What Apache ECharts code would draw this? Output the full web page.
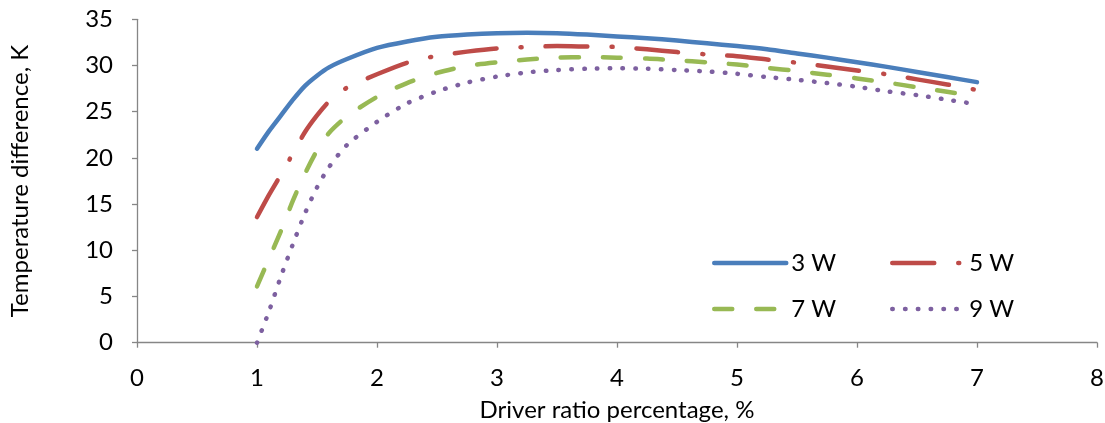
<!DOCTYPE html>
<html>
<head>
<meta charset="utf-8">
<script src="https://cdn.jsdelivr.net/npm/echarts@6/dist/echarts.min.js"></script>
<style>
html,body{margin:0;padding:0;background:#fff;}
#chart{width:1105px;height:423px;}
</style>
</head>
<body>
<div id="chart"></div>
<script>
const xValues = [1, 1.1, 1.2, 1.3, 1.4, 1.5, 1.6, 1.75, 2, 2.25, 2.5, 2.75, 3, 3.25, 3.5, 3.75, 4, 4.25, 4.5, 4.75, 5, 5.25, 5.5, 5.75, 6, 6.25, 6.5, 6.75, 7];
const seriesNames = ['3 W', '5 W', '7 W', '9 W'];
const w3 = [21.0, 22.9, 24.6, 26.3, 27.8, 28.9, 29.8, 30.7, 31.9, 32.6, 33.1, 33.35, 33.5, 33.55, 33.5, 33.35, 33.15, 32.95, 32.7, 32.4, 32.1, 31.75, 31.3, 30.85, 30.35, 29.85, 29.3, 28.75, 28.2];
const w5 = [13.6, 16.0, 18.2, 20.5, 22.8, 24.6, 26.1, 27.6, 29.05, 30.3, 31.05, 31.5, 31.85, 32.0, 32.1, 32.05, 32.0, 31.75, 31.45, 31.2, 31.0, 30.65, 30.3, 29.9, 29.45, 29.05, 28.5, 27.95, 27.35];
const w7 = [6.1, 9.1, 12.1, 15.4, 18.3, 20.8, 22.7, 24.5, 26.6, 28.1, 29.2, 29.95, 30.35, 30.65, 30.85, 30.9, 30.85, 30.75, 30.55, 30.35, 30.1, 29.75, 29.4, 29.0, 28.6, 28.15, 27.65, 27.15, 26.7];
const w9 = [0, 3.4, 7.2, 10.7, 14.0, 16.8, 19.0, 21.4, 23.9, 25.9, 27.2, 28.15, 28.8, 29.25, 29.5, 29.65, 29.7, 29.65, 29.5, 29.35, 29.1, 28.75, 28.45, 28.1, 27.7, 27.2, 26.8, 26.3, 25.8];
const xTicks = [0, 1, 2, 3, 4, 5, 6, 7, 8];
const yTicks = [0, 5, 10, 15, 20, 25, 30, 35];

const colors = ['#4A7EBB', '#BE4B48', '#98B954', '#7D60A0'];
const dashTypes = ['solid', [42, 24, 1, 24], [18, 24], [0.5, 12.3]];
const allValues = [w3, w5, w7, w9];

const font = 'Lato, "Open Sans", sans-serif';
const fs = 24;
const chart = echarts.init(document.getElementById('chart'), null, {renderer: 'canvas'});

const series = seriesNames.map((name, i) => ({
  name: name,
  type: 'line',
  data: xValues.map((x, j) => [x, allValues[i][j]]),
  smooth: 0.25,
  symbol: 'none',
  showSymbol: false,
  animation: false,
  lineStyle: {color: colors[i], width: 4.5, type: dashTypes[i], cap: 'round', join: 'round'},
  itemStyle: {color: colors[i]},
  z: 10 - i
}));

function legendItem(name) {
  const i = seriesNames.indexOf(name);
  return {
    name: name,
    itemStyle: {opacity: 0},
    lineStyle: {color: colors[i], width: 4.5, type: dashTypes[i], cap: 'round'}
  };
}

const legendCommon = {
  orient: 'vertical',
  padding: 0,
  itemWidth: 72,
  itemHeight: 14,
  itemGap: 22,
  textStyle: {fontFamily: font, fontSize: fs, color: '#000'},
  top: 251
};

chart.setOption({
  animation: false,
  backgroundColor: '#fff',
  grid: {left: 137, right: 8, top: 19.3, bottom: 80.3, containLabel: false, outerBoundsMode: 'none'},
  legend: [
    Object.assign({}, legendCommon, {id: 'lg1', left: 712, data: [legendItem('3 W'), legendItem('7 W')]}),
    Object.assign({}, legendCommon, {id: 'lg2', left: 890, data: [legendItem('5 W'), legendItem('9 W')]})
  ],
  xAxis: {
    type: 'value',
    min: xTicks[0], max: xTicks[xTicks.length - 1], interval: 1,
    name: 'Driver ratio percentage, %',
    nameLocation: 'middle',
    nameGap: 56,
    nameTextStyle: {fontFamily: font, fontSize: fs, color: '#000'},
    axisLine: {show: true, lineStyle: {color: '#868686', width: 1.3}},
    axisTick: {show: true, inside: false, length: 5, lineStyle: {color: '#868686', width: 1.3}},
    axisLabel: {fontFamily: font, fontSize: fs, color: '#000', margin: 24},
    splitLine: {show: false}
  },
  yAxis: {
    type: 'value',
    min: yTicks[0], max: yTicks[yTicks.length - 1], interval: 5,
    name: 'Temperature difference, K',
    nameLocation: 'middle',
    nameGap: 105,
    nameTextStyle: {fontFamily: font, fontSize: fs, color: '#000'},
    axisLine: {show: true, lineStyle: {color: '#868686', width: 1.3}},
    axisTick: {show: true, inside: false, length: 5, lineStyle: {color: '#868686', width: 1.3}},
    axisLabel: {fontFamily: font, fontSize: fs, color: '#000', margin: 24},
    splitLine: {show: false}
  },
  series: series
});
</script>
</body>
</html>
